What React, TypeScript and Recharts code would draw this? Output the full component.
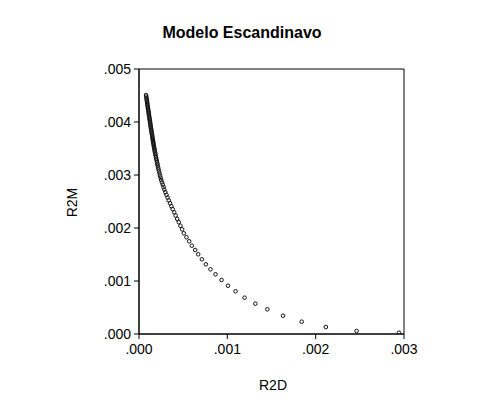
import { ScatterChart, Scatter, XAxis, YAxis, ReferenceArea } from 'recharts';

// R2D values (x), bottom-right to top-left
const r2d = [
  0.002943, 0.002463, 0.002115, 0.001842, 0.001631, 0.001453, 0.001317, 0.001195,
  0.001093, 0.001007, 0.000934, 0.000866, 0.000809, 0.000757, 0.000712, 0.00067,
  0.000636, 0.000598, 0.000568, 0.000537, 0.000507, 0.000488, 0.000469,
  0.00045, 0.000432, 0.000415, 0.000398, 0.000382, 0.000366, 0.000351, 0.000337,
  0.000323, 0.000311, 0.000298, 0.000287, 0.000278, 0.000269, 0.00026, 0.000251,
  0.000245, 0.000239, 0.000233, 0.000227, 0.000222, 0.000217, 0.000212, 0.000208,
  0.000204, 0.0002, 0.000196, 0.000192, 0.000189, 0.000185, 0.000182, 0.000179,
  0.000176, 0.000173, 0.00017, 0.000168, 0.000166, 0.000163, 0.000161, 0.000159,
  0.000157, 0.000155,
  0.000152, 0.00015, 0.000148, 0.000145, 0.000143, 0.000141, 0.000138, 0.000136,
  0.000133, 0.000131, 0.000129, 0.000127, 0.000125, 0.000122, 0.00012, 0.000118,
  0.000115, 0.000113, 0.000111, 0.000109, 0.000107, 0.000104, 0.000102, 0.0001,
  0.000097, 0.000095, 0.000093, 0.000091, 0.000089, 0.000087, 0.000085, 0.000082,
  0.00008,
];

// R2M values (y), same order
const r2m = [
  0.0000245, 0.0000566, 0.000132, 0.000232, 0.000345, 0.000466, 0.000572, 0.000685,
  0.000806, 0.000911, 0.001019, 0.001126, 0.001221, 0.001315, 0.001409, 0.001504,
  0.001585, 0.001666, 0.001749, 0.001825, 0.0019, 0.001975, 0.002043,
  0.002109, 0.002173, 0.002235, 0.002296, 0.002355, 0.002412, 0.002468, 0.002522,
  0.002575, 0.002626, 0.002676, 0.002724, 0.002771, 0.002817, 0.002861, 0.002904,
  0.002946, 0.002987, 0.003027, 0.003066, 0.003103, 0.003139, 0.003174, 0.003208,
  0.003241, 0.003273, 0.003304, 0.003335, 0.003365, 0.003394, 0.003422, 0.003449,
  0.003475, 0.003501, 0.003526, 0.00355, 0.003573, 0.003596, 0.003618, 0.003639,
  0.00366, 0.00368,
  0.003705, 0.00373, 0.003755, 0.00378, 0.003805, 0.00383, 0.003855, 0.00388,
  0.003905, 0.00393, 0.003955, 0.00398, 0.004005, 0.00403, 0.004055, 0.00408,
  0.004105, 0.00413, 0.004155, 0.00418, 0.004205, 0.00423, 0.004255, 0.00428,
  0.004305, 0.00433, 0.004355, 0.00438, 0.004405, 0.00443, 0.004455, 0.00448,
  0.004509,
];

const xTicks = [0, 0.001, 0.002, 0.003];
const yTicks = [0, 0.001, 0.002, 0.003, 0.004, 0.005];

const data = r2d.map((x, i) => ({ x, y: r2m[i] }));

const FONT = '"Liberation Sans", Arial, sans-serif';
const fmt = (v: number) => v.toFixed(3).replace(/^0/, '');

const Dot = (props: any) => (
  <circle cx={props.cx} cy={props.cy} r={1.8} fill="none" stroke="#111" strokeWidth={1} />
);

export default function App() {
  return (
    <div style={{ position: 'absolute', left: 0, top: 0, width: 491, height: 417, background: '#fff' }}>
      <ScatterChart width={491} height={417} margin={{ top: 69, right: 87, bottom: 0, left: 0 }}>
        <XAxis
          type="number"
          dataKey="x"
          domain={[0, 0.003]}
          ticks={xTicks}
          tickFormatter={fmt}
          height={83}
          stroke="#000"
          tickSize={5}
          tickMargin={5}
          tick={{ fill: '#000', fontSize: 14, fontFamily: FONT }}
          allowDataOverflow
        />
        <YAxis
          type="number"
          dataKey="y"
          domain={[0, 0.005]}
          ticks={yTicks}
          tickFormatter={fmt}
          width={139}
          stroke="#000"
          tickSize={5}
          tickMargin={3}
          tick={{ fill: '#000', fontSize: 14, fontFamily: FONT }}
          allowDataOverflow
        />
        <ReferenceArea x1={0} x2={0.003} y1={0} y2={0.005} fill="none" stroke="#000" strokeWidth={1} />
        <Scatter data={data} shape={Dot} isAnimationActive={false} />
      </ScatterChart>
      <svg width={491} height={417} style={{ position: 'absolute', left: 0, top: 0, pointerEvents: 'none' }}>
        <text x={242} y={37.7} textAnchor="middle" fontFamily={FONT} fontWeight="bold" fontSize={16} fill="#000">
          Modelo Escandinavo
        </text>
        <text x={77} y={202.5} textAnchor="middle" fontFamily={FONT} fontSize={14} fill="#000" transform="rotate(-90 77 202.5)">
          R2M
        </text>
        <text x={273} y={390} textAnchor="middle" fontFamily={FONT} fontSize={14} fill="#000">
          R2D
        </text>
      </svg>
    </div>
  );
}
